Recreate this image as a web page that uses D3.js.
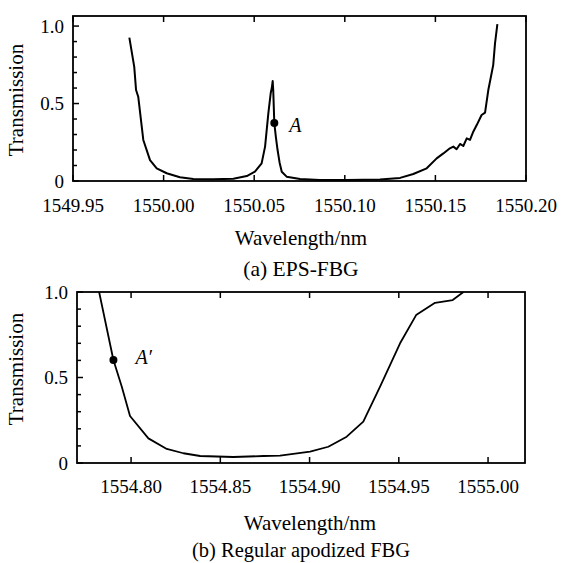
<!DOCTYPE html>
<html><head><meta charset="utf-8">
<script src="https://cdn.jsdelivr.net/npm/d3@7"></script>
</head>
<body style="margin:0;background:#fff"><svg id="c" width="561" height="563"></svg>
<script>
// ---- Data: (a) EPS-FBG ----
const aWavelength = [1549.9811,1549.9838,1549.9848,1549.9860,1549.9888,1549.9925,1549.9962,1550.0017,1550.0090,1550.0164,1550.0274,1550.0385,1550.0459,1550.0504,1550.0541,1550.0560,1550.0578,1550.0591,1550.0597,1550.0602,1550.0605,1550.0611,1550.0620,1550.0629,1550.0640,1550.0652,1550.0679,1550.0753,1550.0863,1550.1010,1550.1194,1550.1305,1550.1378,1550.1452,1550.1507,1550.1544,1550.1580,1550.1599,1550.1617,1550.1636,1550.1654,1550.1673,1550.1691,1550.1709,1550.1728,1550.1755,1550.1774,1550.1792,1550.1801,1550.1819,1550.1829,1550.1842];
const aTransmission = [0.925,0.737,0.587,0.544,0.265,0.135,0.082,0.050,0.024,0.013,0.011,0.015,0.032,0.060,0.114,0.222,0.437,0.566,0.600,0.645,0.587,0.374,0.280,0.200,0.120,0.060,0.028,0.013,0.006,0.006,0.010,0.020,0.045,0.082,0.146,0.178,0.211,0.222,0.205,0.239,0.226,0.275,0.265,0.318,0.361,0.426,0.441,0.587,0.641,0.748,0.888,1.013];
const aPoint = {wavelength:1550.0611, transmission:0.374, label:"A"};
const aXTicks = [1549.95,1550.00,1550.05,1550.10,1550.15,1550.20];
// ---- Data: (b) Regular apodized FBG ----
const bWavelength = [1554.7821,1554.7901,1554.7948,1554.7994,1554.8097,1554.8200,1554.8293,1554.8387,1554.8573,1554.8741,1554.8835,1554.9003,1554.9105,1554.9208,1554.9301,1554.9395,1554.9507,1554.9597,1554.9703,1554.9802,1554.9862];
const bTransmission = [1.0,0.602,0.446,0.275,0.144,0.082,0.057,0.041,0.035,0.041,0.043,0.066,0.095,0.154,0.242,0.446,0.700,0.865,0.937,0.953,1.0];
const bPoint = {wavelength:1554.7901, transmission:0.602, label:"A\u2032"};
const bXTicks = [1554.80,1554.85,1554.90,1554.95,1555.00];
const yMajor = [0,0.5,1.0];
const yMinor = [0.1,0.2,0.3,0.4,0.6,0.7,0.8,0.9];

const FONT = '"Liberation Serif"';
const svg = d3.select("#c");

function txt(sel){ return sel.style("font-family",FONT).attr("fill","#000"); }

function panel(o){
  const g = svg.append("g");
  const x = d3.scaleLinear().domain(o.xDomain).range([o.left,o.right]);
  const y = d3.scaleLinear().domain(o.yDomain).range([o.bottom,o.top]);
  const clipId = "clip"+o.id;
  svg.append("clipPath").attr("id",clipId).append("rect")
    .attr("x",o.left).attr("y",o.top).attr("width",o.right-o.left).attr("height",o.bottom-o.top);
  const tickG = g.append("g").attr("stroke","#000").attr("stroke-width",1.5);
  o.xTicks.forEach(t=>{
    tickG.append("line").attr("x1",x(t)).attr("x2",x(t)).attr("y1",o.bottom).attr("y2",o.bottom-6);
    tickG.append("line").attr("x1",x(t)).attr("x2",x(t)).attr("y1",o.top).attr("y2",o.top+6);
  });
  yMajor.forEach(t=>tickG.append("line").attr("x1",o.left).attr("x2",o.left+6).attr("y1",y(t)).attr("y2",y(t)));
  yMinor.forEach(t=>tickG.append("line").attr("x1",o.left).attr("x2",o.left+4).attr("y1",y(t)).attr("y2",y(t)));
  g.append("rect").attr("x",o.left).attr("y",o.top).attr("width",o.right-o.left).attr("height",o.bottom-o.top)
    .attr("fill","none").attr("stroke","#000").attr("stroke-width",1.8);
  txt(g.selectAll(null).data(o.xTicks).enter().append("text"))
    .attr("x",d=>x(d)).attr("y",o.bottom+o.xLabelOff).attr("text-anchor","middle")
    .attr("font-size",19).text(d=>d.toFixed(2));
  txt(g.selectAll(null).data(yMajor).enter().append("text"))
    .attr("x",o.left-9).attr("y",d=>y(d)+6.5).attr("text-anchor","end")
    .attr("font-size",19).text(d=>d===0?"0":d.toFixed(1));
  txt(g.append("text")).attr("transform",`translate(${o.yTitleX},${o.yTitleY}) rotate(-90)`)
    .attr("text-anchor","middle").attr("font-size",21).text("Transmission");
  txt(g.append("text")).attr("x",o.xTitleX).attr("y",o.xTitleY).attr("text-anchor","middle")
    .attr("font-size",21).text("Wavelength/nm");
  txt(g.append("text")).attr("x",o.capX).attr("y",o.capY).attr("text-anchor","middle")
    .attr("font-size",o.capSize).text(o.caption);
  const line = d3.line().x(d=>x(d[0])).y(d=>y(d[1]));
  g.append("path").datum(o.wl.map((w,i)=>[w,o.tr[i]]))
    .attr("clip-path",`url(#${clipId})`)
    .attr("d",line).attr("fill","none").attr("stroke","#000").attr("stroke-width",o.lw).attr("stroke-linejoin","round");
  g.append("circle").attr("cx",x(o.pt.wavelength)).attr("cy",y(o.pt.transmission)).attr("r",4).attr("fill","#000");
  txt(g.append("text")).attr("x",x(o.pt.wavelength)+o.ptDx).attr("y",y(o.pt.transmission)+o.ptDy)
    .attr("font-style","italic").attr("font-size",20).text(o.pt.label);
}

panel({id:"a",left:73,right:526,top:16,bottom:181,xDomain:[1549.95,1550.20],yDomain:[0,1.065],
  xTicks:aXTicks,xLabelOff:31,wl:aWavelength,tr:aTransmission,pt:aPoint,ptDx:15,ptDy:9,lw:2,
  yTitleX:23,yTitleY:100,xTitleX:301,xTitleY:245,capX:301,capY:276,capSize:21.5,caption:"(a) EPS-FBG"});
panel({id:"b",left:77,right:525,top:292,bottom:463,xDomain:[1554.7697,1555.0207],yDomain:[0,1.0],
  xTicks:bXTicks,xLabelOff:30,wl:bWavelength,tr:bTransmission,pt:bPoint,ptDx:22,ptDy:4,lw:1.8,
  yTitleX:23,yTitleY:369,xTitleX:310,xTitleY:530,capX:301,capY:557,capSize:20.5,caption:"(b) Regular apodized FBG"});
</script></body></html>
